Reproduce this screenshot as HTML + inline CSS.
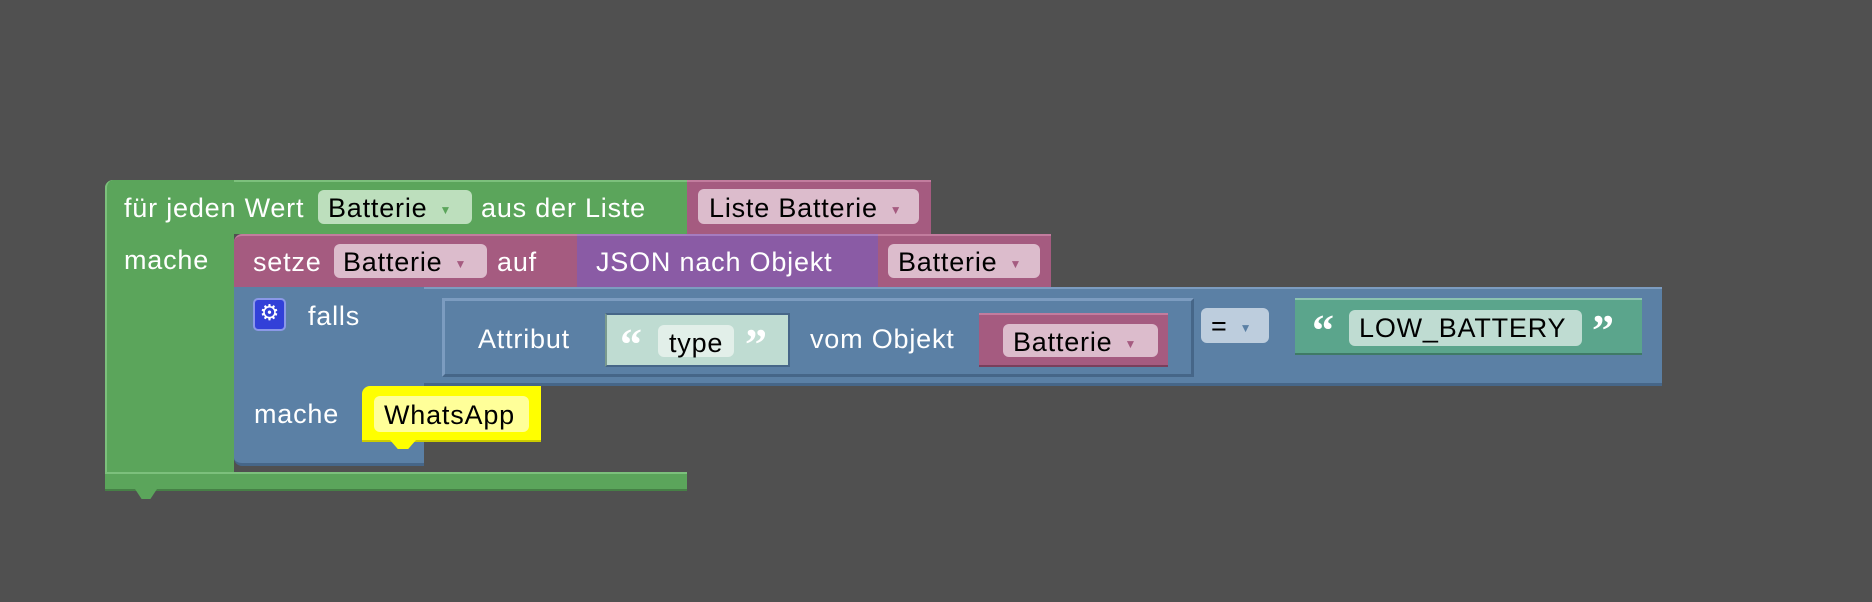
<!DOCTYPE html>
<html><head><meta charset="utf-8"><style>
html,body{margin:0;padding:0;background:#505050;width:1872px;height:602px;overflow:hidden}
div{position:absolute;box-sizing:border-box}
.t{font-family:"Liberation Sans",sans-serif;font-size:27px;letter-spacing:0.8px;color:#fff;white-space:nowrap;line-height:1}
.k{color:#000}
.f{border-radius:6px}
.ar{font-size:12px;margin-left:12px;vertical-align:middle}
.q{font-family:"Liberation Serif",serif;font-size:44px;font-weight:bold;color:#fff;line-height:1;white-space:nowrap}
</style></head><body>
<!-- green for-each -->
<div style="left:105px;top:180px;width:582px;height:54px;background:#5ba55b;border-radius:8px 0 0 0;border-top:2px solid #7cc07c"></div>
<div style="left:105px;top:180px;width:129px;height:311px;background:#5ba55b;border-radius:8px 0 0 8px;border-left:2px solid #7cc07c"></div>
<div style="left:105px;top:472px;width:582px;height:19px;background:#5ba55b;border-top:2px solid #7cc07c;border-bottom:2px solid #468046"></div>
<div style="left:135px;top:489px;width:22px;height:10px;background:#5ba55b;clip-path:polygon(0 0,100% 0,70% 100%,30% 100%)"></div>
<div class="t" style="left:124px;top:195px">für jeden Wert</div>
<div class="f" style="left:318px;top:190px;width:154px;height:34px;background:#bddfbd"></div>
<div class="t k" style="left:328px;top:195px">Batterie<span class="ar" style="color:#5ba55b">▼</span></div>
<div class="t" style="left:481px;top:195px">aus der Liste</div>
<div style="left:687px;top:180px;width:244px;height:54px;background:#a55b80;border-top:2px solid #c27c9e"></div>
<div class="f" style="left:698px;top:189px;width:221px;height:35px;background:#dcbccc"></div>
<div class="t k" style="left:709px;top:195px">Liste Batterie<span class="ar" style="color:#a55b80">▼</span></div>
<div class="t" style="left:124px;top:247px">mache</div>
<!-- setze -->
<div style="left:234px;top:234px;width:343px;height:53px;background:#a55b80;border-radius:8px 0 0 0;border-top:2px solid #c27c9e"></div>
<div class="f" style="left:334px;top:244px;width:153px;height:34px;background:#dcbccc"></div>
<div class="t" style="left:253px;top:249px">setze</div>
<div class="t k" style="left:343px;top:249px">Batterie<span class="ar" style="color:#a55b80">▼</span></div>
<div class="t" style="left:497px;top:249px">auf</div>
<div style="left:577px;top:234px;width:301px;height:53px;background:#8a5ba5;border-top:2px solid #a57cc0"></div>
<div class="t" style="left:596px;top:249px">JSON nach Objekt</div>
<div style="left:878px;top:234px;width:173px;height:53px;background:#a55b80;border-top:2px solid #c27c9e"></div>
<div class="f" style="left:888px;top:244px;width:152px;height:34px;background:#dcbccc"></div>
<div class="t k" style="left:898px;top:249px">Batterie<span class="ar" style="color:#a55b80">▼</span></div>
<!-- falls -->
<div style="left:234px;top:287px;width:1428px;height:99px;background:#5b80a5;border-top:2px solid #7c9cc0;border-bottom:3px solid #466688"></div>
<div style="left:234px;top:287px;width:190px;height:179px;background:#5b80a5;border-radius:0 0 0 8px;border-bottom:3px solid #466688"></div>
<div style="left:253px;top:298px;width:33px;height:33px;background:#3240d8;border-radius:5px;border:2px solid #8a98e8;color:#fff;font-size:22px;text-align:center;line-height:28px;font-family:'DejaVu Sans',sans-serif">⚙</div>
<div class="t" style="left:308px;top:303px">falls</div>
<div style="left:442px;top:298px;width:752px;height:79px;border:3px solid #466688;border-top-color:#7c9cc0;border-left-color:#7c9cc0;background:#5b80a5"></div>
<div class="t" style="left:478px;top:326px">Attribut</div>
<div style="left:605px;top:313px;width:185px;height:54px;background:#bfdcd2;border:2px solid #466688;border-left-color:#7a9a8e"></div>
<div class="q" style="left:620px;top:323px">“</div>
<div class="f" style="left:658px;top:325px;width:76px;height:32px;background:#e2efe9"></div>
<div class="t k" style="left:669px;top:330px">type</div>
<div class="q" style="left:745px;top:323px">”</div>
<div class="t" style="left:810px;top:326px">vom Objekt</div>
<div style="left:979px;top:313px;width:189px;height:54px;background:#a55b80;border-top:2px solid #c27c9e;border-bottom:2px solid #7a3f5c"></div>
<div class="f" style="left:1003px;top:324px;width:155px;height:33px;background:#dcbccc"></div>
<div class="t k" style="left:1013px;top:329px">Batterie<span class="ar" style="color:#a55b80">▼</span></div>
<div class="f" style="left:1201px;top:308px;width:68px;height:35px;background:#bdcddd"></div>
<div class="t k" style="left:1211px;top:313px">=<span class="ar" style="color:#5b80a5">▼</span></div>
<div style="left:1295px;top:298px;width:347px;height:57px;background:#5ba58c;border-top:2px solid #8cc4b0;border-bottom:2px solid #3f7a66"></div>
<div class="q" style="left:1312px;top:309px">“</div>
<div class="f" style="left:1349px;top:310px;width:233px;height:36px;background:#bfdcd2"></div>
<div class="t k" style="left:1359px;top:315px">LOW_BATTERY</div>
<div class="q" style="left:1592px;top:309px">”</div>
<div class="t" style="left:254px;top:401px">mache</div>
<div style="left:362px;top:386px;width:179px;height:56px;background:#ffff00;border-radius:8px 0 0 0;border-bottom:2px solid #cccc00"></div>
<div style="left:390px;top:440px;width:26px;height:9px;background:#ffff00;clip-path:polygon(0 0,100% 0,70% 100%,30% 100%)"></div>
<div class="f" style="left:374px;top:396px;width:155px;height:36px;background:#ffff99"></div>
<div class="t k" style="left:384px;top:402px">WhatsApp</div>
</body></html>
